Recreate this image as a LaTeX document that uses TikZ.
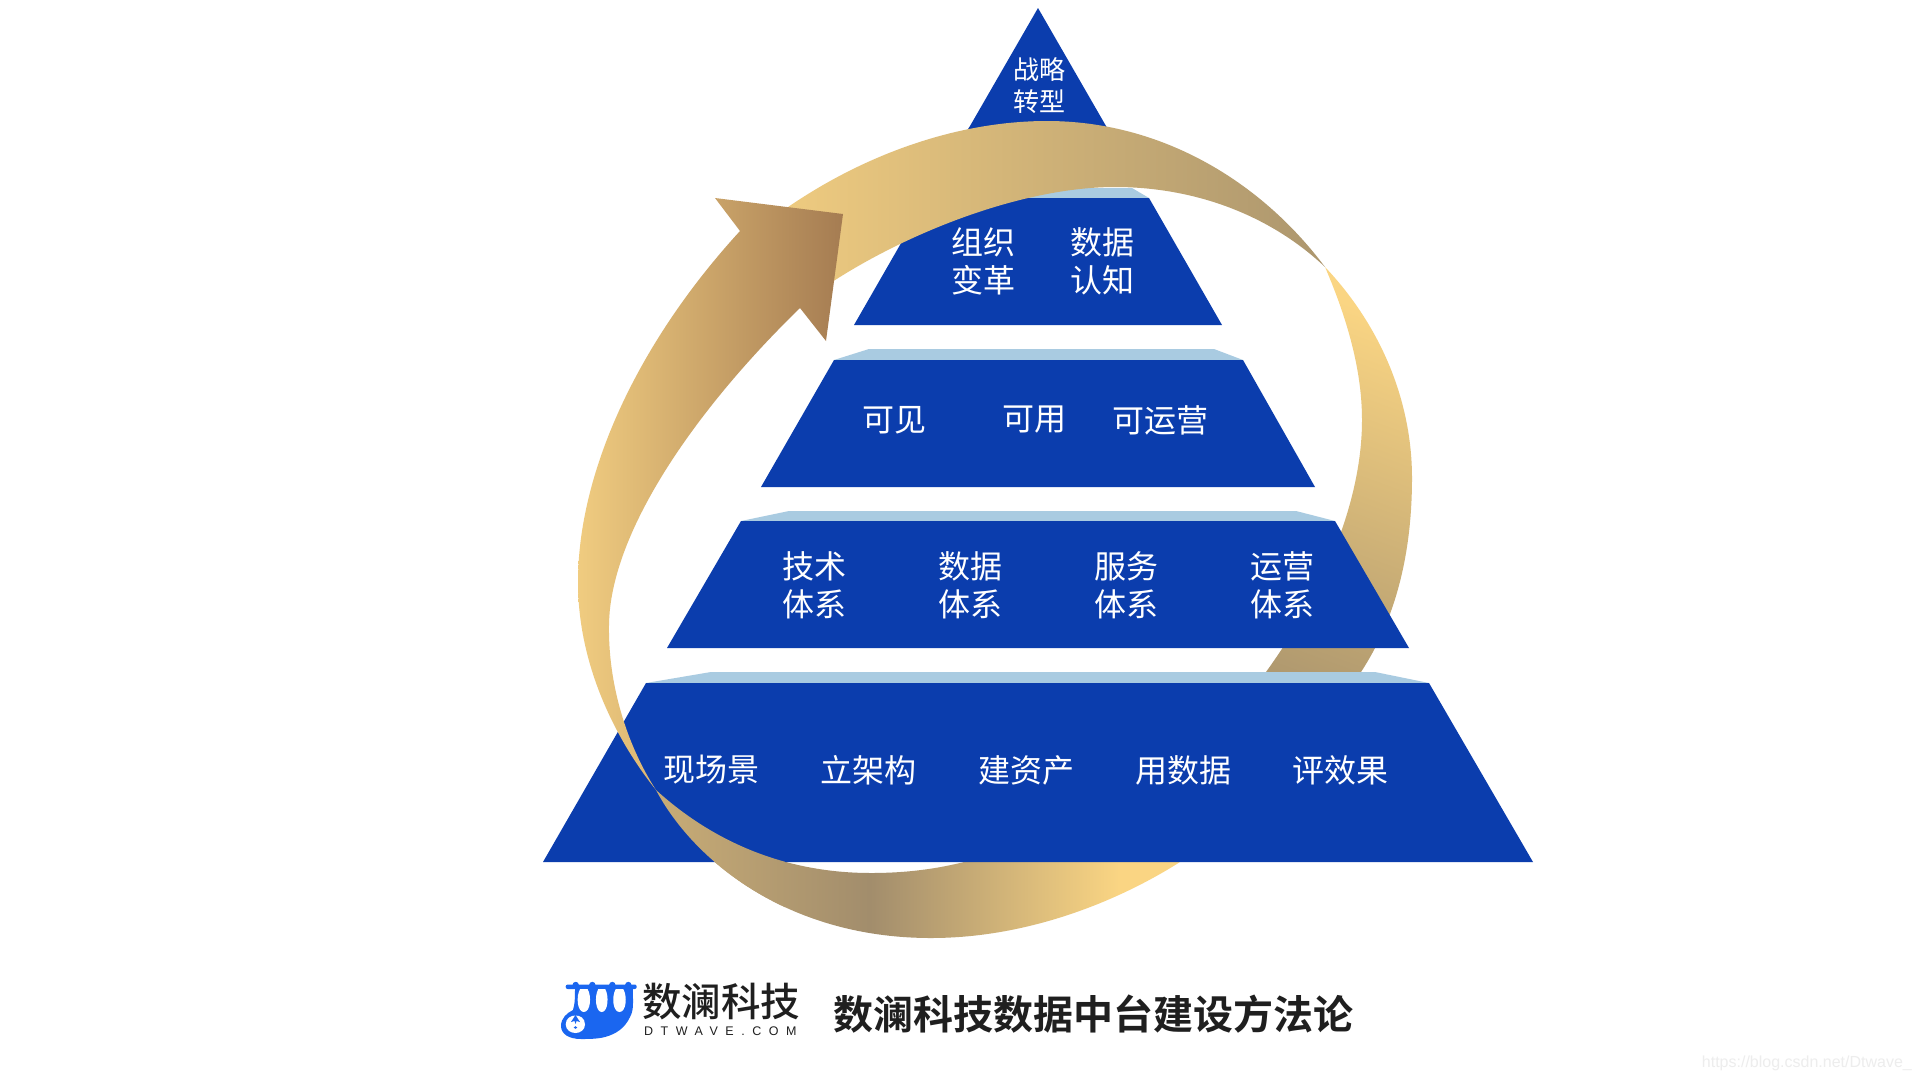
\documentclass[tikz,border=0pt]{standalone}
\usepackage{fontspec}
\setmainfont{Liberation Sans}
\newfontfamily\cjk{Noto Sans CJK SC}
\newfontfamily\cjkm{Noto Sans CJK SC Medium}
\newfontfamily\cjkb{Noto Sans CJK SC Bold}
\newfontfamily\lspaced[LetterSpace=60]{Liberation Sans}
\definecolor{tierblue}{HTML}{0B3DAD}
\definecolor{tierlight}{HTML}{A9CBE1}
\definecolor{gold}{HTML}{F0CC80}
\definecolor{yel}{HTML}{FAD583}
\definecolor{taupe}{HTML}{AC966E}
\definecolor{darktaupe}{HTML}{A28D6C}
\definecolor{brownh}{HTML}{A57C52}
\definecolor{tan}{HTML}{C8AC76}
\definecolor{logoblue}{HTML}{1A66F0}
\pgfdeclarehorizontalshading{botsh}{100bp}{color(0bp)=(tan); color(25bp)=(tan); color(43bp)=(darktaupe); color(64bp)=(yel); color(100bp)=(yel)}
\tikzset{
 tier/.style={fill=tierblue,draw=none},
 band/.style={fill=tierlight,draw=none},
 lab/.style={text=white,font=\cjk\fontsize{32}{38}\selectfont,align=center,inner sep=0pt},
 labtop/.style={text=white,font=\cjk\fontsize{26}{32}\selectfont,align=center,inner sep=0pt},
}
\def\rightcres{(1325,267) .. controls (1380,325) and (1412,400) .. (1412,478) .. controls (1412,555) and (1395,620) .. (1361,672) -- (1330,730) -- (1220,730) -- (1266,672) .. controls (1325,590) and (1362,500) .. (1362,420) .. controls (1362,375) and (1350,325) .. (1325,267) -- cycle}
\def\botcres{(656,790) .. controls (692,858) and (785,938) .. (931,938) .. controls (1030,938) and (1120,900) .. (1180,862) -- (1250,800) -- (1080,800) -- (964,862) .. controls (940,868) and (910,873) .. (871,873) .. controls (770,873) and (700,830) .. (656,790) -- cycle}
\def\topcres{(770,220) .. controls (850,160) and (950,121) .. (1047,121) .. controls (1160,121) and (1260,180) .. (1325,267) .. controls (1270,215) and (1195,187) .. (1115,187) .. controls (1020,187) and (900,235) .. (820,290) -- cycle}
\def\leftarrow{(656,790) .. controls (620,745) and (578,670) .. (578,582) .. controls (578,470) and (640,340) .. (740,231) -- (715,198) -- (843,214) -- (826,341) -- (800,308) .. controls (700,405) and (610,530) .. (609,625) .. controls (608,690) and (630,750) .. (656,790) -- cycle}
\begin{document}
\begin{tikzpicture}[x=1pt,y=-1pt]
\useasboundingbox (0,0) rectangle (1920,1080);
\fill[white] (0,0) rectangle (1920,1080);
% ribbon pieces behind the lower tiers
\shade[top color=yel,bottom color=taupe,shading angle=-20] \rightcres;
\shade[shading=botsh] \botcres;
% tiers
\path[tier] (1038,8) -- (1106,126) -- (1115,140) -- (961,140) -- (970,126) -- cycle;
\path[band] (944,188) -- (1132,188) -- (1149,198) -- (927,198) -- cycle;
\path[tier] (927,198) -- (1149,198) -- (1222,325) -- (854,325) -- cycle;
\path[band] (869,349) -- (1214,349) -- (1243,360) -- (834,360) -- cycle;
\path[tier] (834,360) -- (1243,360) -- (1315,487) -- (761,487) -- cycle;
\path[band] (789,511) -- (1296,511) -- (1335,521) -- (741,521) -- cycle;
\path[tier] (741,521) -- (1335,521) -- (1409,648) -- (667,648) -- cycle;
\path[band] (711,672) -- (1375,672) -- (1429,683) -- (646,683) -- cycle;
\path[tier] (646,683) -- (1429,683) -- (1533,862) -- (543,862) -- cycle;
% ribbon pieces in front
\begin{scope}
\clip (600,700) rectangle (785,940);
\shade[shading=botsh] \botcres;
\end{scope}
\shade[left color=gold,right color=taupe] \topcres;
\shade[left color=gold,right color=brownh] \leftarrow;
% labels
\node[labtop] (l1) at (1039,86) {战略\\转型};
\node[lab] (a1) at (983,261) {组织\\变革};
\node[lab] (a2) at (1102,261) {数据\\认知};
\node[lab] (b1) at (894,420) {可见};
\node[lab] (b2) at (1034,420) {可用};
\node[lab] (b3) at (1160,420) {可运营};
\node[lab] (c1) at (814,585) {技术\\体系};
\node[lab] (c2) at (970,585) {数据\\体系};
\node[lab] (c3) at (1126,585) {服务\\体系};
\node[lab] (c4) at (1282,585) {运营\\体系};
\node[lab] (d1) at (711,770) {现场景};
\node[lab] (d2) at (868,770) {立架构};
\node[lab] (d3) at (1026,770) {建资产};
\node[lab] (d4) at (1183,770) {用数据};
\node[lab] (d5) at (1340,770) {评效果};
% logo
\fill[logoblue,rounded corners=2pt] (565.7,984.5) rectangle (636.7,989);
\foreach \xx in {575.7,592.3,612.3,628.3} \fill[logoblue] (\xx,985) circle (3.2);
\fill[logoblue] (575,987) -- (632.7,987) .. controls (633,1002) and (634,1010) .. (630,1017) .. controls (625,1028) and (616,1034) .. (605,1037) .. controls (597,1039) and (589,1039) .. (581,1039) .. controls (569,1039) and (561,1034) .. (561,1026) .. controls (561,1018) and (567,1013) .. (573,1010) .. controls (575,1004) and (575,996) .. (575,987) -- cycle;
\foreach \xx/\ww in {577.7/12.3,596/11.5,613.3/12.4} \fill[white] (\xx+0.2*\ww,989) .. controls (\xx-0.15*\ww,996) and (\xx-0.05*\ww,1012) .. (\xx+0.5*\ww,1012) .. controls (\xx+1.05*\ww,1012) and (\xx+1.15*\ww,996) .. (\xx+0.8*\ww,989) -- cycle;
\fill[white] (565.7,1024.5) .. controls (565.7,1018) and (571,1015.5) .. (575.5,1015.5) .. controls (580,1015.5) and (585,1018) .. (585,1024.5) .. controls (585,1030) and (580,1033) .. (575.5,1033) .. controls (571,1033) and (565.7,1030) .. (565.7,1024.5) -- cycle;
\fill[logoblue] (575.5,1015) -- (580,1022) -- (576.5,1021) -- (575.5,1024) -- (574.5,1021) -- (571,1022) -- cycle;
\fill[logoblue] (575.5,1027.5) ellipse (1.8 and 1.3);
\node[inner sep=0pt,font=\cjkm\fontsize{39.5}{39.5}\selectfont,text=black!88] (lg) at (721,1002) {数澜科技};
\node[inner sep=0pt,anchor=west,font=\lspaced\fontsize{12.5}{13}\selectfont,text=black!88] (lg2) at (644,1031.3) {DTWAVE.COM};
\node[inner sep=0pt,font=\cjkb\fontsize{40}{40}\selectfont,text=black!88] (title) at (1093,1014) {数澜科技数据中台建设方法论};
\node[inner sep=0pt,anchor=east,font=\fontsize{16}{16}\selectfont,text=black!7] (wm) at (1912,1063) {https://blog.csdn.net/Dtwave\_};
\end{tikzpicture}
\end{document}
